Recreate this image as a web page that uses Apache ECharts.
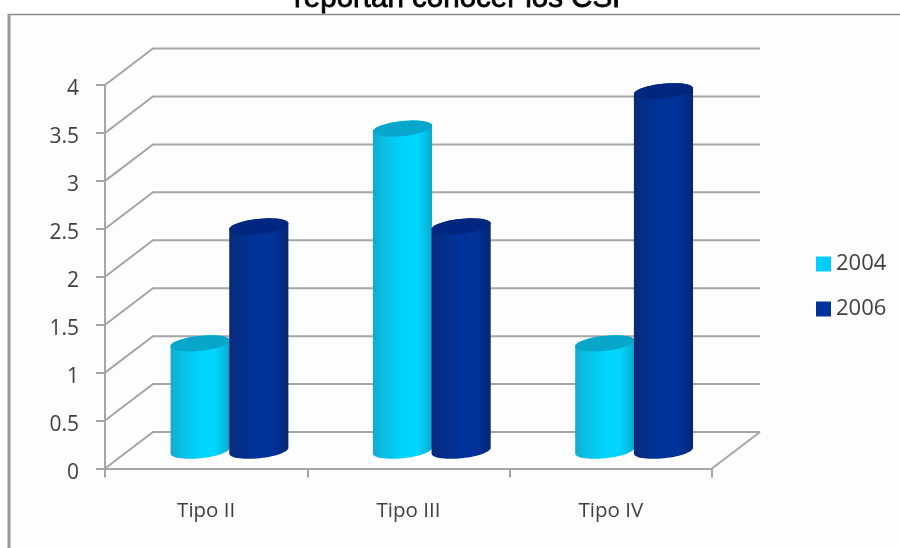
<!DOCTYPE html>
<html><head><meta charset="utf-8">
<style>html,body{margin:0;padding:0;background:#fff}#c{width:900px;height:548px}</style>
<script src="https://cdn.jsdelivr.net/npm/echarts@6/dist/echarts.min.js"></script>
</head><body><div id="c"></div>
<script>
var categories = ['Tipo II', 'Tipo III', 'Tipo IV'];
var values2004 = [1.12, 3.36, 1.12];
var values2006 = [2.34, 2.34, 3.75];
var gridValues = [0, 0.5, 1, 1.5, 2, 2.5, 3, 3.5, 4];

var DX = 48, DY = 36.5;          // depth of the 3D box
var chart = echarts.init(document.getElementById('c'));

function ellipsePts(cx, cy, rx, ry, tilt, from, to, n) {
  var pts = [], c = Math.cos(tilt), s = Math.sin(tilt);
  for (var i = 0; i <= n; i++) {
    var t = from + (to - from) * i / n;
    var x = rx * Math.cos(t), y = ry * Math.sin(t);
    pts.push([cx + x * c - y * s, cy + x * s + y * c]);
  }
  return pts;
}

function cylinder(side, stops, topColor) {
  return function (params, api) {
    var cat = api.value(0), v = api.value(1);
    var band = api.size([1, 0])[0];
    var base = api.coord([cat, 0]), top = api.coord([cat, v]);
    var cx = base[0] + DX / 2 + side * band * 0.145 - 0.7;
    var rx = band * 0.147, ry = 7.5, tilt = -6 * Math.PI / 180;
    var yb = base[1] - DY / 2 + 0.5, yt = top[1] - DY / 2 + 0.5;
    var bottom = ellipsePts(cx, yb, rx, ry, tilt, Math.PI, 0, 30);
    var body = bottom.concat(ellipsePts(cx, yt, rx, ry, tilt, 0, -Math.PI, 30));
    var cap = ellipsePts(cx, yt, rx, ry, tilt, 0, 2 * Math.PI, 60);
    return {
      type: 'group',
      children: [
        { type: 'polygon', shape: { points: body },
          style: { fill: new echarts.graphic.LinearGradient(0, 0, 1, 0, stops) } },
        { type: 'polygon', shape: { points: cap }, style: { fill: topColor } }
      ]
    };
  };
}

var cyanStops = [{offset:0,color:'#18a8cc'},{offset:0.14,color:'#0bbce2'},{offset:0.5,color:'#00d4fd'},{offset:0.75,color:'#00d6ff'},{offset:0.93,color:'#08b8de'},{offset:1,color:'#14a2c6'}];
var navyStops = [{offset:0,color:'#0c2a78'},{offset:0.14,color:'#042d86'},{offset:0.45,color:'#003399'},{offset:0.75,color:'#003399'},{offset:0.93,color:'#032a80'},{offset:1,color:'#0c266e'}];

function barData(arr) { return arr.map(function (v, i) { return [i, v]; }); }

chart.setOption({
  animation: false,
  backgroundColor: '#ffffff',
  title: {
    text: 'reportan conocer los CSI', left: 289, top: -21,
    textStyle: { fontFamily: 'Liberation Sans', fontSize: 29.5, fontWeight: 'normal', color: '#000', textBorderColor: '#000', textBorderWidth: 0.8 }
  },
  legend: {
    orient: 'vertical', left: 811, top: 248, itemWidth: 15, itemHeight: 15, itemGap: 23,
    icon: 'rect',
    data: ['2004', '2006'],
    textStyle: { fontFamily: 'Open Sans', fontSize: 22, color: '#404040' }
  },
  grid: { left: 105, top: 85, width: 607, height: 383.5, containLabel: false },
  xAxis: {
    type: 'category', data: categories, boundaryGap: true,
    axisLine: { show: true, lineStyle: { color: '#a6a6a6', width: 2 } },
    axisTick: { show: true, alignWithLabel: false, length: 9, lineStyle: { color: '#a6a6a6', width: 2 } },
    axisLabel: { fontFamily: 'Open Sans', fontSize: 20.5, color: '#404040', margin: 32 }
  },
  yAxis: {
    type: 'value', min: 0, max: 4, interval: 0.5,
    axisLine: { show: true, lineStyle: { color: '#a6a6a6', width: 2 } },
    axisTick: { show: true, length: 9, lineStyle: { color: '#a6a6a6', width: 2 } },
    axisLabel: { fontFamily: 'Open Sans', fontSize: 21, color: '#404040', margin: 26, verticalAlign: 'top', lineHeight: 9 },
    splitLine: { show: false }
  },
  graphic: [
    { type: 'rect', z: -10, shape: { x: 9, y: 15, width: 891, height: 533 }, style: { fill: '#fdfdfd' }, silent: true },
    { type: 'line', z: -9, shape: { x1: 8, y1: 14.5, x2: 900, y2: 14.5 }, style: { stroke: '#8c8c8c', lineWidth: 1.5 }, silent: true },
    { type: 'line', z: -9, shape: { x1: 9, y1: 14, x2: 9, y2: 548 }, style: { stroke: '#9a9a9a', lineWidth: 3 }, silent: true }
  ],
  series: [
    {
      type: 'custom', name: 'wall', z: 1, silent: true,
      coordinateSystem: 'cartesian2d', clip: false,
      data: gridValues.map(function (v) { return [0, v]; }),
      encode: { x: 0, y: 1 },
      renderItem: function (params, api) {
        var p = api.coord([0, api.value(1)]);
        var x0 = params.coordSys.x, x1 = x0 + params.coordSys.width;
        var kids = [{
          type: 'polyline',
          shape: { points: [[x0, p[1]], [x0 + DX, p[1] - DY], [x1 + DX, p[1] - DY]] },
          style: { fill: null, stroke: '#a6a6a6', lineWidth: 2 }
        }];
        if (api.value(1) === 0) {
          kids.push({ type: 'line', shape: { x1: x1, y1: p[1], x2: x1 + DX, y2: p[1] - DY },
            style: { stroke: '#a6a6a6', lineWidth: 2 } });
        }
        return { type: 'group', children: kids };
      }
    },
    {
      type: 'custom', name: '2004', z: 3, coordinateSystem: 'cartesian2d', clip: false,
      itemStyle: { color: '#00ccff' }, data: barData(values2004), encode: { x: 0, y: 1 },
      renderItem: cylinder(-1, cyanStops, '#08a6cb')
    },
    {
      type: 'custom', name: '2006', z: 4, coordinateSystem: 'cartesian2d', clip: false,
      itemStyle: { color: '#003399' }, data: barData(values2006), encode: { x: 0, y: 1 },
      renderItem: cylinder(1, navyStops, '#00277f')
    }
  ]
});
</script></body></html>
